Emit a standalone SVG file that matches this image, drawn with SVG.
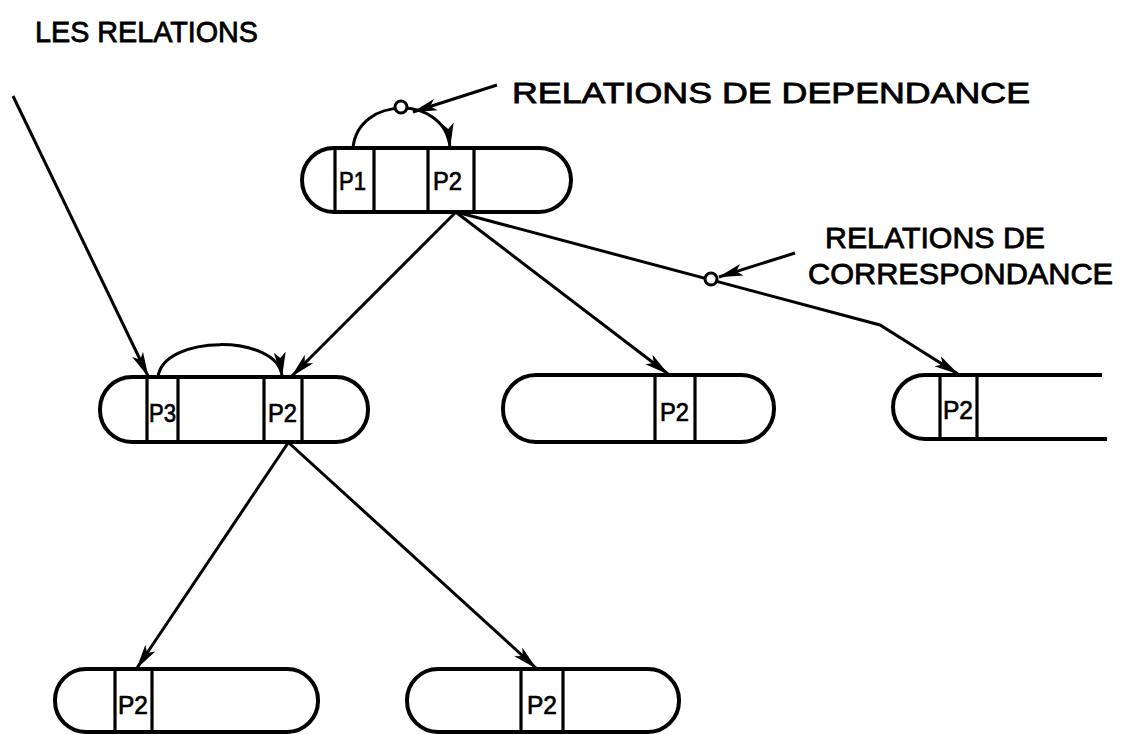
<svg xmlns="http://www.w3.org/2000/svg" width="1127" height="734" viewBox="0 0 1127 734">
  <style>
    .pill { fill: none; stroke: #000; stroke-width: 4; }
    .div { stroke: #000; stroke-width: 3.2; }
    .cell { font-family: "Liberation Sans", Arial, sans-serif; font-size: 25px; fill: #000; stroke: #000; stroke-width: 0.7; }
    .title { font-family: "Liberation Sans", Arial, sans-serif; font-size: 29px; fill: #000; stroke: #000; stroke-width: 0.8; }
    .edge { fill: none; stroke: #000; stroke-width: 3; }
    .knot { fill: #fff; stroke: #000; stroke-width: 3; }
  </style>
  <defs>
    <marker id="head" markerUnits="userSpaceOnUse" markerWidth="28" markerHeight="16" refX="24" refY="8" orient="auto">
      <path d="M0,2 L25,8 L0,14 L6,8 z" fill="#000"/>
    </marker>
  </defs>
  <rect width="1127" height="734" fill="#fff"/>

  <!-- labels -->
  <text class="title" x="35" y="42" textLength="223" lengthAdjust="spacingAndGlyphs">LES RELATIONS</text>
  <text class="title" x="512" y="103" textLength="518" lengthAdjust="spacingAndGlyphs">RELATIONS DE DEPENDANCE</text>
  <text class="title" x="825" y="248" textLength="220" lengthAdjust="spacingAndGlyphs">RELATIONS DE</text>
  <text class="title" x="808" y="284" textLength="305" lengthAdjust="spacingAndGlyphs">CORRESPONDANCE</text>

  <!-- top node -->
  <g id="node-top">
    <rect class="pill" x="302" y="148" width="269" height="64" rx="32" ry="32"/>
    <line class="div" x1="335" y1="148" x2="335" y2="212"/>
    <line class="div" x1="374" y1="148" x2="374" y2="212"/>
    <line class="div" x1="428" y1="148" x2="428" y2="212"/>
    <line class="div" x1="474" y1="148" x2="474" y2="212"/>
    <text class="cell" x="339" y="190" textLength="27" lengthAdjust="spacingAndGlyphs">P1</text>
    <text class="cell" x="433" y="190" textLength="29" lengthAdjust="spacingAndGlyphs">P2</text>
  </g>

  <!-- middle row -->
  <g id="node-mid-left">
    <rect class="pill" x="100" y="377" width="268" height="65" rx="32" ry="32"/>
    <line class="div" x1="147" y1="377" x2="147" y2="442"/>
    <line class="div" x1="178" y1="377" x2="178" y2="442"/>
    <line class="div" x1="264" y1="377" x2="264" y2="442"/>
    <line class="div" x1="302" y1="377" x2="302" y2="442"/>
    <text class="cell" x="149" y="422" textLength="27" lengthAdjust="spacingAndGlyphs">P3</text>
    <text class="cell" x="268" y="422" textLength="29" lengthAdjust="spacingAndGlyphs">P2</text>
  </g>

  <g id="node-mid">
    <rect class="pill" x="503" y="375" width="271" height="67" rx="33" ry="33"/>
    <line class="div" x1="655" y1="375" x2="655" y2="442"/>
    <line class="div" x1="695" y1="375" x2="695" y2="442"/>
    <text class="cell" x="660" y="421" textLength="29" lengthAdjust="spacingAndGlyphs">P2</text>
  </g>

  <g id="node-mid-right">
    <path class="pill" d="M1102,375 H925 A32,32 0 0 0 925,439 H1107"/>
    <line class="div" x1="940" y1="375" x2="940" y2="439"/>
    <line class="div" x1="977" y1="375" x2="977" y2="439"/>
    <text class="cell" x="943" y="419" textLength="30" lengthAdjust="spacingAndGlyphs">P2</text>
  </g>

  <!-- bottom row -->
  <g id="node-bottom-left">
    <rect class="pill" x="55" y="669" width="263" height="63" rx="31" ry="31"/>
    <line class="div" x1="115" y1="669" x2="115" y2="732"/>
    <line class="div" x1="152" y1="669" x2="152" y2="732"/>
    <text class="cell" x="118" y="714" textLength="30" lengthAdjust="spacingAndGlyphs">P2</text>
  </g>

  <g id="node-bottom-mid">
    <rect class="pill" x="407" y="669" width="272" height="63" rx="31" ry="31"/>
    <line class="div" x1="521" y1="669" x2="521" y2="732"/>
    <line class="div" x1="563" y1="669" x2="563" y2="732"/>
    <text class="cell" x="527" y="714" textLength="30" lengthAdjust="spacingAndGlyphs">P2</text>
  </g>

  <!-- connectors -->
  <g id="connectors">
    <line class="edge" x1="13" y1="96" x2="148" y2="376" marker-end="url(#head)"/>
    <path class="edge" d="M353,148 C358,95 445,95 450,147" marker-end="url(#head)"/>
    <circle class="knot" cx="401" cy="107" r="6"/>
    <line class="edge" x1="497" y1="85" x2="413" y2="112" marker-end="url(#head)"/>

    <line class="edge" x1="455" y1="213" x2="292" y2="376" marker-end="url(#head)"/>
    <line class="edge" x1="457" y1="213" x2="668" y2="374" marker-end="url(#head)"/>
    <polyline class="edge" points="460,213 880,325 958,374" marker-end="url(#head)"/>
    <circle class="knot" cx="711" cy="279" r="6"/>
    <line class="edge" x1="795" y1="253" x2="719" y2="277" marker-end="url(#head)"/>

    <path class="edge" d="M158,377 C163,334 278,334 282,376" marker-end="url(#head)"/>
    <line class="edge" x1="288" y1="443" x2="137" y2="668" marker-end="url(#head)"/>
    <line class="edge" x1="289" y1="443" x2="536" y2="668" marker-end="url(#head)"/>
  </g>
</svg>
